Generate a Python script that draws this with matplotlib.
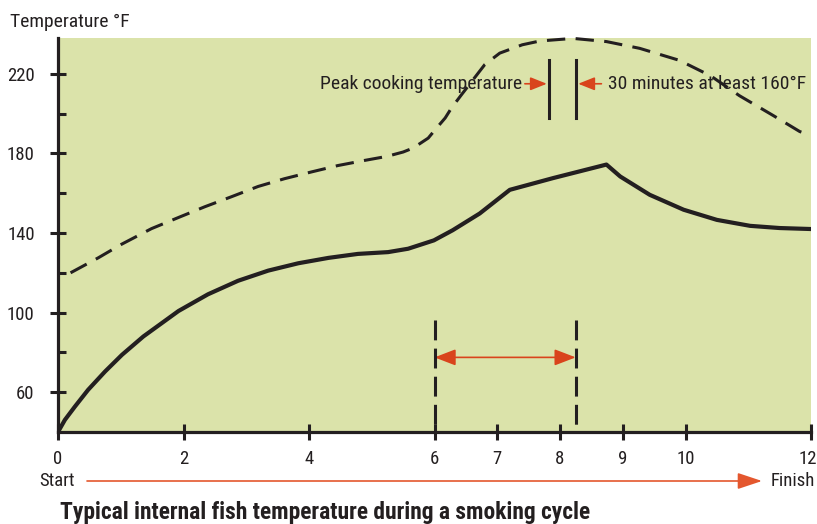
import os
import numpy as np
import matplotlib as mpl
import matplotlib.pyplot as plt
from matplotlib import font_manager as fm
from matplotlib.patches import ArrowStyle
from matplotlib.transforms import ScaledTranslation

# 数据
time_fish = [0, 0.11, 0.27, 0.48, 0.75, 1.02, 1.36, 1.92, 2.39, 2.87, 3.35, 3.83, 4.31, 4.78, 5.26,
             5.58, 5.99, 6.29, 6.72, 7.2, 7.89, 8.74, 8.96, 9.43, 9.97, 10.5, 11.03, 11.5, 12.0]
temp_fish = [40, 46.1, 52.8, 61.2, 70.4, 78.8, 88.0, 100.8, 109.2, 116, 121.1, 124.8, 127.5, 129.5, 130.4,
             132.1, 136.3, 141.4, 149.8, 161.7, 167.6, 174.4, 168.4, 159.2, 151.7, 146.6, 143.6, 142.5, 142.0]
time_smoker = [0.2, 0.64, 1.01, 1.49, 1.92, 2.34, 2.77, 3.19, 3.61, 4.04, 4.46, 4.89, 5.24, 5.5, 5.66,
               5.9, 6.01, 6.17, 6.27, 6.43, 6.8, 7.04, 7.4, 7.68, 8.21, 8.74, 9.27, 9.9, 10.4, 10.86,
               11.4, 11.82, 12.0]
temp_smoker = [120, 127.5, 134.3, 142.2, 147.8, 153.2, 158.3, 163.4, 167.3, 170.7, 173.9, 176.5, 178.5, 180.7, 182.7,
               187.7, 191.9, 197.8, 202.8, 209.5, 224.6, 230.4, 234.6, 236.5, 237.8, 236.2, 232.8, 226.8, 219, 209,
               199, 191, 189]
xticks = [0, 2, 4, 6, 7, 8, 9, 10, 12]
yticks_major = [60, 100, 140, 180, 220]
yticks_minor = [80, 120, 160, 200]
peak_window = [7.82, 8.26]     # 峰值温度区间
window_160 = [6.0, 8.25]       # 至少160°F 30分钟

green = '#dbe3aa'
dark = '#231f20'
red = '#d9441c'
red2 = '#e4572e'

# 找窄体字体
def find_font(keys):
    for key in keys:
        for f in fm.fontManager.ttflist:
            if key.lower() in os.path.basename(f.fname).lower():
                return f.fname
    return None

reg_file = find_font(['RobotoCondensed-Regular', 'LiberationSansNarrow-Regular', 'DejaVuSansCondensed.ttf'])
bold_file = find_font(['RobotoCondensed-Bold.', 'LiberationSansNarrow-Bold.', 'DejaVuSansCondensed-Bold.'])
if reg_file:
    fp = fm.FontProperties(fname=reg_file, size=13.5)
    fp2 = fm.FontProperties(fname=reg_file, size=14)
else:
    fp = fm.FontProperties(family='DejaVu Sans', size=11)
    fp2 = fm.FontProperties(family='DejaVu Sans', size=11)
if bold_file:
    fpb = fm.FontProperties(fname=bold_file, size=16.9)
else:
    fpb = fm.FontProperties(family='DejaVu Sans', weight='bold', size=12.5)

W, H = 817, 524
fig = plt.figure(figsize=(W/100, H/100), dpi=100)
ax = fig.add_axes([58/W, 1-432/H, 753/W, 394/H])
ax.set_facecolor(green)
ax.set_xlim(0, 12)
ax.set_ylim(40, 238)
for s in ['top', 'right']:
    ax.spines[s].set_visible(False)
for s in ['left', 'bottom']:
    ax.spines[s].set_linewidth(2.3)
    ax.spines[s].set_color(dark)
    ax.spines[s].set_zorder(5)

ax.set_xticks(xticks)
ax.set_xticklabels([str(t) for t in xticks], fontproperties=fp)
ax.set_yticks(yticks_major)
ax.set_yticklabels([str(t) for t in yticks_major], fontproperties=fp)
ax.set_yticks(yticks_minor, minor=True)
ax.tick_params(axis='both', which='major', direction='inout', length=11.5, width=2.2,
               color=dark, labelcolor=dark)
ax.tick_params(axis='x', which='major', pad=7)
ax.tick_params(axis='y', which='major', pad=11)
ax.tick_params(axis='y', which='minor', direction='in', length=6, width=2.2, color=dark)
# 最右边的"12"稍微左移
lab12 = ax.get_xticklabels()[-1]
lab12.set_transform(lab12.get_transform() + ScaledTranslation(-3/100, 0, fig.dpi_scale_trans))

# 曲线
ax.plot(time_fish, temp_fish, color=dark, lw=3, solid_joinstyle='round', zorder=3)
ax.plot(time_smoker, temp_smoker, color=dark, lw=2.2, dashes=(6, 3.4), clip_on=False, zorder=3)

# 竖直虚线和双箭头
for xv in window_160:
    ax.plot([xv, xv], [96.5, 40], color=dark, lw=2.2, dashes=(6.5, 2.7), zorder=4)
ax.annotate('', xy=(window_160[1], 77.5), xytext=(window_160[0], 77.5),
            arrowprops=dict(arrowstyle=ArrowStyle('<|-|>', head_length=0.65, head_width=0.25),
                            mutation_scale=20, color=red, lw=1.2, shrinkA=0, shrinkB=0))

# 峰值区间
for xv in peak_window:
    ax.plot([xv, xv], [198, 227], color=dark, lw=2.2, zorder=4)
ax.annotate('', xy=(peak_window[0] - 0.03, 215), xytext=(peak_window[0] - 0.38, 215),
            arrowprops=dict(arrowstyle=ArrowStyle('-|>', head_length=0.5, head_width=0.2),
                            mutation_scale=20, color=red, lw=1.2, shrinkA=0, shrinkB=0))
ax.annotate('', xy=(peak_window[1] + 0.03, 215), xytext=(peak_window[1] + 0.4, 215),
            arrowprops=dict(arrowstyle=ArrowStyle('-|>', head_length=0.5, head_width=0.2),
                            mutation_scale=20, color=red, lw=1.2, shrinkA=0, shrinkB=0))
ax.text(peak_window[0] - 0.43, 215, 'Peak cooking temperature', ha='right', va='center',
        fontproperties=fp2, color=dark)
ax.text(peak_window[1] + 0.51, 215, '30 minutes at least 160°F', ha='left', va='center',
        fontproperties=fp2, color=dark)

# 图外文字
fig.text(10/W, 1-22/H, 'Temperature °F', ha='left', va='center', fontproperties=fp2, color=dark)
fig.text(39/W, 1-481/H, 'Start', ha='left', va='center', fontproperties=fp, color=dark)
fig.text(815/W, 1-481/H, 'Finish', ha='right', va='center', fontproperties=fp, color=dark)
ax.annotate('', xy=(762/W, 1-481/H), xytext=(87/W, 1-481/H),
            xycoords='figure fraction', textcoords='figure fraction',
            arrowprops=dict(arrowstyle=ArrowStyle('-|>', head_length=0.75, head_width=0.25),
                            mutation_scale=20, color=red2, lw=1.2, shrinkA=0, shrinkB=0))
fig.text(60/W, 1-512/H, 'Typical internal fish temperature during a smoking cycle',
         ha='left', va='center', fontproperties=fpb, color=dark)

fig.savefig('out.png', dpi=100)
